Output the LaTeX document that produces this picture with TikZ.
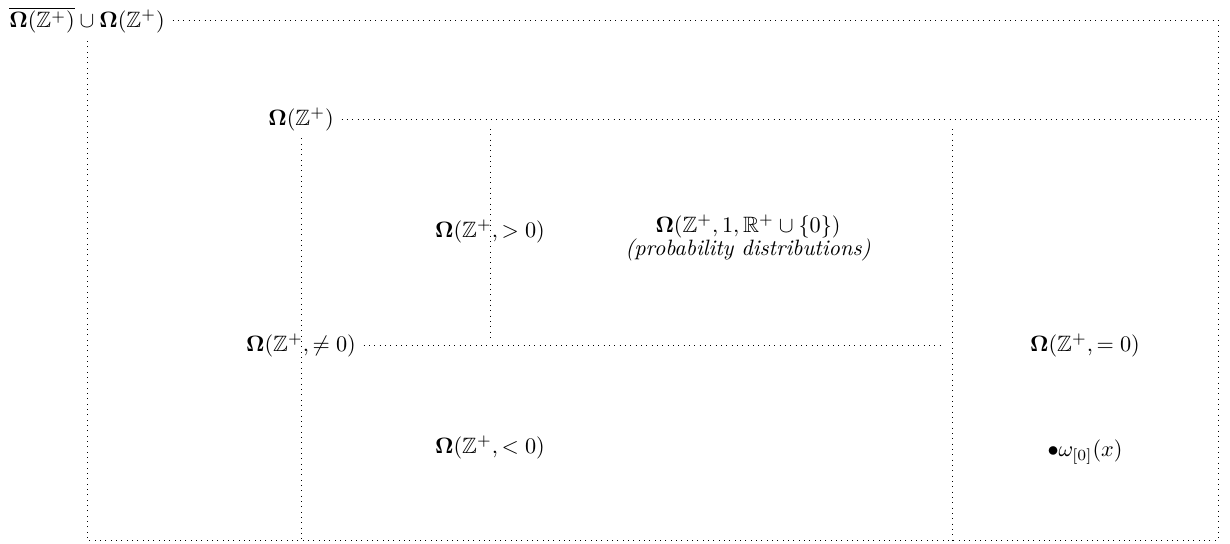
\documentclass[tikz,border=0pt]{standalone}
\usepackage{amsmath}
\usepackage{amssymb}

\begin{document}
\begin{tikzpicture}[x=0.45pt,y=-0.45pt, edge/.style={dotted}]
    \useasboundingbox (0,0) rectangle (1230,543);

    % Set labels
    \node (all) at (87,20) {$\overline{\mathbf{\Omega}(\mathbb{Z}^+)}\cup\mathbf{\Omega}(\mathbb{Z}^+)$};
    \node (pos) at (301,119) {$\mathbf{\Omega}(\mathbb{Z}^+)$};
    \node (nz) at (301,345) {$\mathbf{\Omega}(\mathbb{Z}^+,\neq 0)$};
    \node (gz) at (490,231) {$\mathbf{\Omega}(\mathbb{Z}^+,>0)$};
    \node[align=center] (prob) at (748,238) {$\mathbf{\Omega}(\mathbb{Z}^+,1,\mathbb{R}^+\cup\{0\})$\\[-2pt] \textit{(probability distributions)}};
    \node (lz) at (490,447) {$\mathbf{\Omega}(\mathbb{Z}^+,<0)$};
    \node (ez) at (1085,345) {$\mathbf{\Omega}(\mathbb{Z}^+,=0)$};
    \node (om) at (1085,452) {$\bullet\omega_{[0]}(x)$};

    % Corners
    \coordinate (se) at (1218,540);
    \coordinate (gzTop) at (490,129);
    \coordinate (gzBot) at (490,341);
    \coordinate (ezTop) at (952,129);
    \coordinate (nzEnd) at (945,345);

    % Boundaries
    \draw[edge] (all.east) -| (se) -| (all.south);
    \draw[edge] (pos.east) -- (pos.east -| se);
    \draw[edge] (pos.south) -- (pos.south |- se);
    \draw[edge] (nz.east) -- (nzEnd);
    \draw[edge] (gzTop) -- (gzBot);
    \draw[edge] (ezTop) -- (ezTop |- se);
\end{tikzpicture}
\end{document}
